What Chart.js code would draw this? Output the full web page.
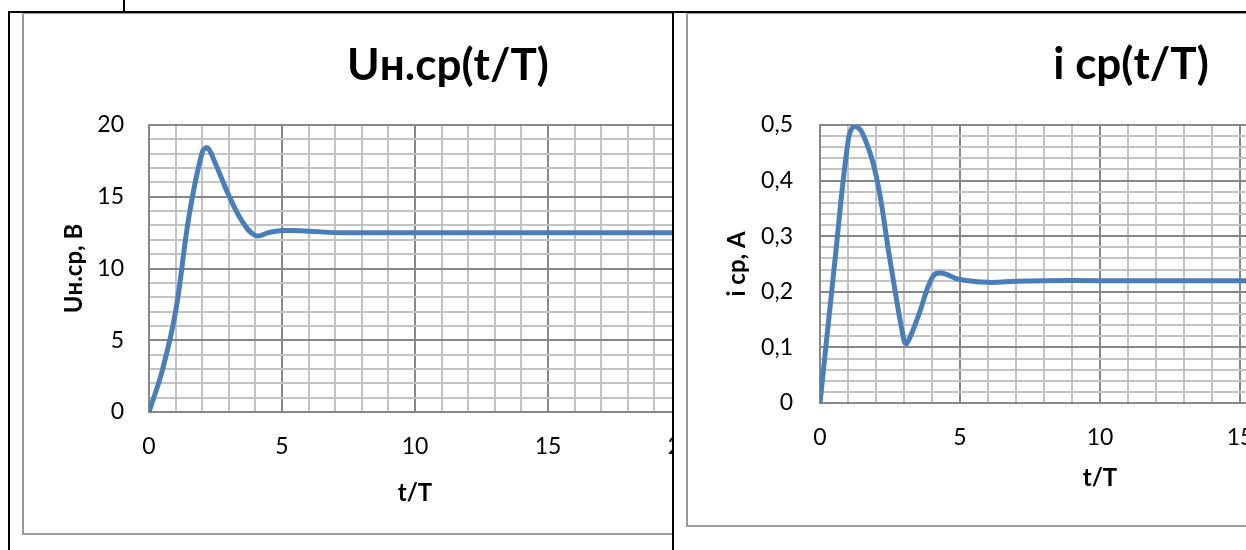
<!DOCTYPE html>
<html>
<head>
<meta charset="utf-8">
<script src="https://cdn.jsdelivr.net/npm/chart.js@4"></script>
<style>
  body { margin: 0; width: 1246px; height: 550px; overflow: hidden; position: relative; background: #fff; }
  .rule { position: absolute; background: #000; }
  .cell { position: absolute; overflow: hidden; }
  .box { position: absolute; border: 2px solid #9a9a9a; background: #fff; }
  .box canvas { display: block; }
</style>
</head>
<body>
<div class="cell" style="left:0; top:0; width:672px; height:550px;">
  <div class="box" style="left:22px; top:12px; width:848px; height:519px;">
    <canvas id="uChart" width="848" height="519"></canvas>
  </div>
</div>
<div class="cell" style="left:674px; top:0; width:572px; height:550px;">
  <div class="box" style="left:12px; top:12px; width:886px; height:511px;">
    <canvas id="iChart" width="886" height="511"></canvas>
  </div>
</div>
<div class="rule" style="left:123px; top:0; width:2px; height:12px;"></div>
<div class="rule" style="left:8px; top:11px; width:1238px; height:2px;"></div>
<div class="rule" style="left:8px; top:11px; width:2px; height:539px;"></div>
<div class="rule" style="left:672px; top:11px; width:2px; height:539px;"></div>
<script>
// load voltage Uн.ср vs t/T
const uTime = [0, 0.5, 1, 1.5, 2, 2.2, 2.5, 3, 3.5, 4, 4.5, 5, 6, 7, 8, 10, 12, 14, 16, 18, 20];
const uValues = [0, 2.9, 7.0, 13.6, 18.1, 18.4, 17.3, 15.1, 13.3, 12.3, 12.5, 12.65, 12.6, 12.5, 12.5, 12.5, 12.5, 12.5, 12.5, 12.5, 12.5];
const uXTicks = ['0', '5', '10', '15', '20'];
const uYTicks = ['0', '5', '10', '15', '20'];

// current i ср vs t/T
const iTime = [0, 0.5, 1, 1.2, 1.5, 2, 2.5, 3, 3.1, 3.5, 4, 4.3, 5, 6, 7, 8, 10, 12, 14, 16, 18, 20];
const iValues = [0, 0.24, 0.47, 0.497, 0.487, 0.41, 0.257, 0.112, 0.107, 0.155, 0.225, 0.234, 0.222, 0.217, 0.219, 0.22, 0.22, 0.22, 0.22, 0.22, 0.22, 0.22];
const iXTicks = ['0', '5', '10', '15', '20'];
const iYTicks = ['0', '0,1', '0,2', '0,3', '0,4', '0,5'];

const FONT = "Lato, 'Noto Sans', sans-serif";
const MAJOR = '#878787';
const MINOR = '#c3c3c3';
const LINE = '#4a7ebb';
const TITLE_SIZE = 44;
const TICK_SIZE = 23;
const AXIS_TITLE_SIZE = 24;
const PLOT_TOP = 111;

function buildChart(id, opts) {
  const points = opts.xs.map((x, k) => ({ x: x, y: opts.ys[k] }));
  const ctx = document.getElementById(id).getContext('2d');
  return new Chart(ctx, {
    type: 'line',
    data: {
      datasets: [{
        data: points,
        borderColor: LINE,
        borderWidth: 5,
        pointRadius: 0,
        tension: 0.4,
        fill: false,
      }],
    },
    options: {
      responsive: false,
      animation: false,
      layout: { padding: 0 },
      plugins: {
        legend: { display: false },
        tooltip: { enabled: false },
        title: {
          display: true,
          text: opts.title,
          color: '#000',
          font: { family: FONT, size: TITLE_SIZE, weight: 'bold' },
          padding: { top: opts.titleTop, bottom: PLOT_TOP - opts.titleTop - TITLE_SIZE * 1.2 },
        },
      },
      scales: {
        x: {
          type: 'linear',
          min: 0,
          max: 20,
          afterFit: s => { s.height = opts.xAxisHeight; },
          grid: {
            drawTicks: false,
            lineWidth: 2,
            color: c => (c.tick && c.tick.value % 5 === 0 ? MAJOR : MINOR),
          },
          border: { color: MAJOR, width: 2 },
          ticks: {
            stepSize: 1,
            autoSkip: false,
            maxRotation: 0,
            padding: 21,
            color: '#000',
            font: { family: FONT, size: TICK_SIZE },
            callback: v => (v % 5 === 0 ? opts.xTicks[v / 5] : ''),
          },
          title: {
            display: true,
            text: 't/T',
            color: '#000',
            font: { family: FONT, size: AXIS_TITLE_SIZE, weight: 'bold' },
            padding: { top: 0, bottom: opts.xTitlePad },
          },
        },
        y: {
          type: 'linear',
          min: 0,
          max: opts.yMax,
          afterFit: s => { s.width = opts.yAxisWidth; },
          grid: {
            drawTicks: false,
            lineWidth: 2,
            color: c => (c.tick && Math.round(c.tick.value / opts.yMinor) % 5 === 0 ? MAJOR : MINOR),
          },
          border: { color: MAJOR, width: 2 },
          ticks: {
            stepSize: opts.yMinor,
            autoSkip: false,
            padding: opts.yTickPad,
            color: '#000',
            font: { family: FONT, size: TICK_SIZE },
            callback: v => {
              const k = Math.round(v / opts.yMinor);
              return k % 5 === 0 ? opts.yTicks[k / 5] : '';
            },
          },
          title: {
            display: true,
            text: opts.yTitle,
            color: '#000',
            font: { family: FONT, size: AXIS_TITLE_SIZE, weight: 'bold' },
            padding: { top: opts.yTitlePad, bottom: 0 },
          },
        },
        // empty space on the right, where the original chart kept its legend
        side: {
          type: 'linear',
          position: 'right',
          afterFit: s => { s.width = opts.sideWidth; },
          grid: { display: false, drawOnChartArea: false },
          border: { display: false },
          ticks: { display: false },
        },
      },
    },
  });
}

buildChart('uChart', {
  xs: uTime, ys: uValues,
  title: 'Uн.ср(t/T)', titleTop: 25,
  yTitle: 'Uн.ср, В', yMax: 20, yMinor: 1,
  xTicks: uXTicks, yTicks: uYTicks,
  xAxisHeight: 121, yAxisWidth: 125, sideWidth: 191,
  yTickPad: 25, yTitlePad: 36, xTitlePad: 25,
});

buildChart('iChart', {
  xs: iTime, ys: iValues,
  title: 'i ср(t/T)', titleTop: 24,
  yTitle: 'i ср, А', yMax: 0.5, yMinor: 0.02,
  xTicks: iXTicks, yTicks: iYTicks,
  xAxisHeight: 122, yAxisWidth: 132, sideWidth: 194,
  yTickPad: 27, yTitlePad: 35, xTitlePad: 32,
});
</script>
</body>
</html>
